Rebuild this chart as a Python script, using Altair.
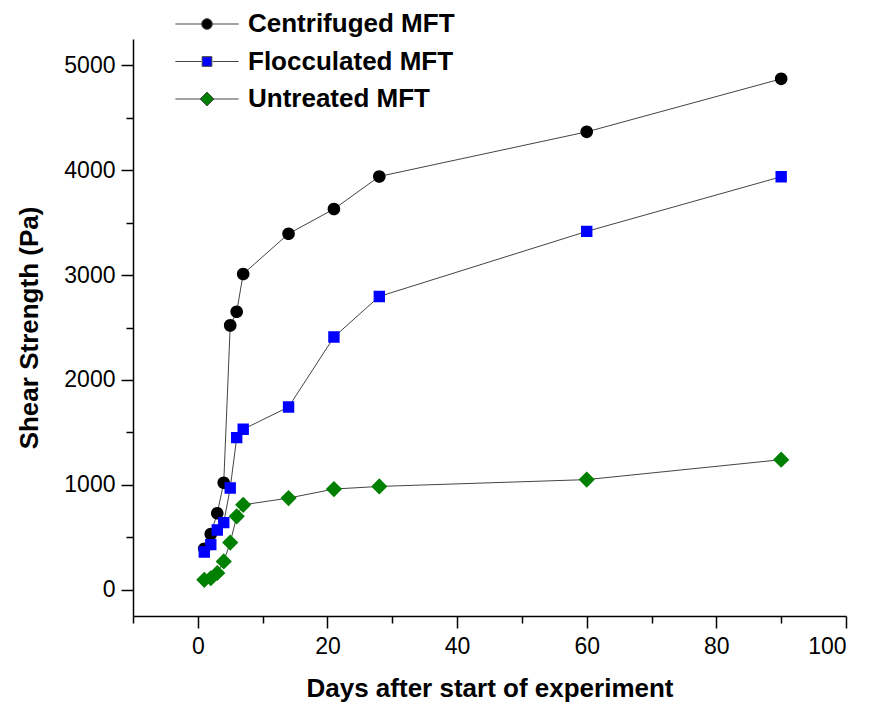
import altair as alt
import pandas as pd

days = [1, 2, 3, 4, 5, 6, 7, 14, 21, 28, 60, 90]
centrifuged = [390, 530, 730, 1020, 2520, 2650, 3010, 3394, 3629, 3940, 4365, 4870]
flocculated = [360, 430, 570, 640, 970, 1450, 1530, 1742, 2409, 2796, 3416, 3937]
untreated = [95, 110, 160, 270, 450, 700, 810, 874, 960, 985, 1050, 1240]
series_names = ["Centrifuged MFT", "Flocculated MFT", "Untreated MFT"]
series_colors = ["#000000", "#0000ff", "#008000"]

x_major = [0, 20, 40, 60, 80, 100]
x_minor = [-10, 10, 30, 50, 70, 90]
y_major = [0, 1000, 2000, 3000, 4000, 5000]
y_minor = [500, 1500, 2500, 3500, 4500]

rows = []
for name, vals in zip(series_names, [centrifuged, flocculated, untreated]):
    for d, v in zip(days, vals):
        rows.append({"day": d, "strength": v, "series": name})
df = pd.DataFrame(rows)

whisk = "M-6.2,0L-1.1,0M1.1,0L6.2,0"
shape_paths = [
    "M-1.05,0A1.05,1.05,0,1,1,1.05,0A1.05,1.05,0,1,1,-1.05,0Z" + whisk,
    "M-0.95,-0.95L0.95,-0.95L0.95,0.95L-0.95,0.95Z" + whisk,
    "M-1.35,0L0,-1.35L1.35,0L0,1.35Z" + whisk,
]

FONT = "Liberation Sans"
xscale = alt.Scale(domain=[-10, 100], nice=False, zero=False)
yscale = alt.Scale(domain=[-250, 5250], nice=False, zero=False)

lines = alt.Chart(df).mark_line(color="#444444", strokeWidth=1.0).encode(
    x=alt.X("day:Q", scale=xscale,
            axis=alt.Axis(values=x_major, orient="bottom", tickSize=12, labelFontSize=23,
                          labelPadding=7, title="Days after start of experiment",
                          titleFontSize=26, titleFontWeight="bold", titlePadding=17,
                          grid=False, format="d")),
    y=alt.Y("strength:Q", scale=yscale,
            axis=alt.Axis(values=y_major, orient="left", tickSize=12, labelFontSize=23,
                          labelPadding=6, title="Shear Strength (Pa)",
                          titleFontSize=26, titleFontWeight="bold", titlePadding=21,
                          grid=False, format="d")),
    detail="series:N",
)

points = alt.Chart(df).mark_point(filled=True, size=144, stroke="transparent", opacity=1).encode(
    x=alt.X("day:Q", scale=xscale,
            axis=alt.Axis(values=x_minor, orient="bottom", tickSize=7, labels=False,
                          domain=False, title=None, grid=False)),
    y=alt.Y("strength:Q", scale=yscale,
            axis=alt.Axis(values=y_minor, orient="left", tickSize=7, labels=False,
                          domain=False, title=None, grid=False)),
    color=alt.Color("series:N",
                    scale=alt.Scale(domain=series_names, range=series_colors),
                    legend=alt.Legend(title=None, orient="none", legendX=61, legendY=-28,
                                      labelFontSize=26, labelFontWeight="bold",
                                      labelFont=FONT, labelColor="black", labelLimit=0,
                                      symbolSize=104, symbolStrokeColor="#444444",
                                      symbolStrokeWidth=1.0, labelOffset=28,
                                      rowPadding=11.5, padding=0)),
    shape=alt.Shape("series:N",
                    scale=alt.Scale(domain=series_names, range=shape_paths)),
)

chart = alt.layer(lines, points).resolve_axis(x="independent", y="independent").properties(
    width=713, height=577,
    background="white",
    autosize=alt.AutoSizeParams(type="none"),
    padding={"left": 133, "top": 39, "right": 23, "bottom": 93},
).configure_view(stroke="transparent", strokeWidth=0).configure_axis(
    domainColor="black", domainWidth=1.5, tickColor="black", tickWidth=1.5,
    labelColor="black", titleColor="black", labelFont=FONT, titleFont=FONT,
)

chart.save("out.html", embed_options={"renderer": "svg", "actions": False})
